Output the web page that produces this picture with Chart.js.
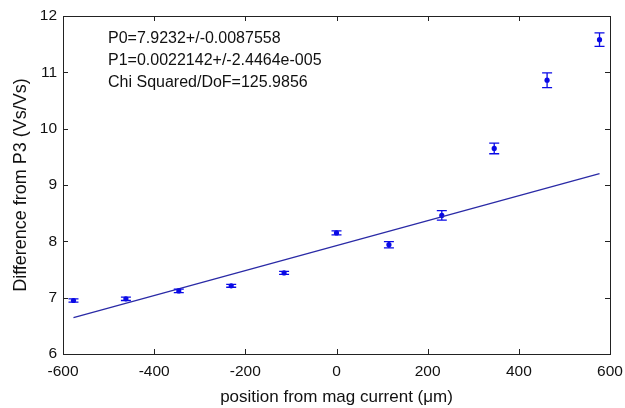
<!DOCTYPE html>
<html>
<head>
<meta charset="utf-8">
<script src="https://cdn.jsdelivr.net/npm/chart.js@4/dist/chart.umd.min.js"></script>
<style>
html,body{margin:0;padding:0;background:#fff;}
#wrap{width:625px;height:408px;position:relative;}
</style>
</head>
<body>
<div id="wrap"><canvas id="c" width="625" height="408"></canvas></div>
<script>
// ---- data ----
const positions = [-577, -462, -346, -231, -115, 0, 115, 231, 346, 462, 577];
const differences = [6.95, 6.98, 7.12, 7.21, 7.44, 8.15, 7.94, 8.46, 9.65, 10.86, 11.58];
const errors = [0.03, 0.03, 0.03, 0.025, 0.025, 0.035, 0.055, 0.085, 0.095, 0.13, 0.12];
const fitP0 = 7.9232;
const fitP1 = 0.0022142;
const fitRange = [-577, 577];
const xTicks = [-600, -400, -200, 0, 200, 400, 600];
const yTicks = [6, 7, 8, 9, 10, 11, 12];
const annotationLines = [
  'P0=7.9232+/-0.0087558',
  'P1=0.0022142+/-2.4464e-005',
  'Chi Squared/DoF=125.9856'
];
const xTitle = 'position from mag current (\u03BCm)';
const yTitle = 'Difference from P3 (Vs/Vs)';

const FONT = '"Liberation Sans", Arial, sans-serif';

const pointData = positions.map((x, i) => ({x: x, y: differences[i]}));
const fitData = fitRange.map(x => ({x: x, y: fitP0 + fitP1 * x}));

const errorBars = {
  id: 'errorBars',
  afterDatasetsDraw(chart) {
    const ctx = chart.ctx, xs = chart.scales.x, ys = chart.scales.y;
    ctx.save();
    ctx.strokeStyle = '#0a0ae6';
    ctx.lineWidth = 1.3;
    positions.forEach((x, i) => {
      const px = xs.getPixelForValue(x);
      const top = ys.getPixelForValue(differences[i] + errors[i]);
      const bot = ys.getPixelForValue(differences[i] - errors[i]);
      ctx.beginPath();
      ctx.moveTo(px, top); ctx.lineTo(px, bot);
      ctx.moveTo(px - 5, top); ctx.lineTo(px + 5, top);
      ctx.moveTo(px - 5, bot); ctx.lineTo(px + 5, bot);
      ctx.stroke();
    });
    ctx.restore();
  }
};

const boxTicks = {
  id: 'boxTicks',
  afterDraw(chart) {
    const ctx = chart.ctx, a = chart.chartArea, xs = chart.scales.x, ys = chart.scales.y;
    ctx.save();
    ctx.strokeStyle = '#222';
    ctx.lineWidth = 1;
    const L = 5;
    ctx.beginPath();
    xTicks.forEach(v => {
      const p = Math.round(xs.getPixelForValue(v)) + 0.5;
      ctx.moveTo(p, a.bottom); ctx.lineTo(p, a.bottom - L);
      ctx.moveTo(p, a.top); ctx.lineTo(p, a.top + L);
    });
    yTicks.forEach(v => {
      const p = Math.round(ys.getPixelForValue(v)) + 0.5;
      ctx.moveTo(a.left, p); ctx.lineTo(a.left + L, p);
      ctx.moveTo(a.right, p); ctx.lineTo(a.right - L, p);
    });
    ctx.stroke();
    ctx.strokeRect(Math.round(a.left) + 0.5, Math.round(a.top) + 0.5,
                   Math.round(a.right - a.left), Math.round(a.bottom - a.top));
    // annotation text
    ctx.fillStyle = '#111';
    ctx.font = '16px ' + FONT;
    ctx.textBaseline = 'middle';
    annotationLines.forEach((t, i) => ctx.fillText(t, 108, 39 + i * 22));
    ctx.restore();
  }
};

new Chart(document.getElementById('c'), {
  type: 'scatter',
  data: {
    datasets: [
      {
        data: fitData,
        showLine: true,
        borderColor: '#2a2aa6',
        borderWidth: 1.3,
        pointRadius: 0,
        fill: false
      },
      {
        data: pointData,
        showLine: false,
        pointRadius: 2.6,
        pointBackgroundColor: '#0a0ae6',
        pointBorderColor: '#0a0ae6',
        pointBorderWidth: 0
      }
    ]
  },
  options: {
    responsive: false,
    animation: false,
    events: [],
    layout: {padding: {top: 16, right: 15, left: 0, bottom: 0}},
    plugins: {legend: {display: false}, tooltip: {enabled: false}},
    scales: {
      x: {
        type: 'linear', min: -600, max: 600,
        afterBuildTicks(s) { s.ticks = xTicks.map(v => ({value: v})); },
        afterFit(s) { s.height = 54; s.paddingLeft = 0; s.paddingRight = 0; },
        grid: {display: false, drawTicks: false},
        border: {display: false},
        ticks: {color: '#111', font: {family: FONT, size: 15.5}, padding: 8,
                maxRotation: 0, autoSkip: false},
        title: {display: true, text: xTitle, color: '#111',
                font: {family: FONT, size: 17}, padding: {top: 0, bottom: 0}}
      },
      y: {
        type: 'linear', min: 6, max: 12,
        afterBuildTicks(s) { s.ticks = yTicks.map(v => ({value: v})); },
        afterFit(s) { s.width = 63; s.paddingTop = 0; s.paddingBottom = 0; },
        grid: {display: false, drawTicks: false},
        border: {display: false},
        ticks: {color: '#111', font: {family: FONT, size: 15.5}, padding: 6},
        title: {display: true, text: yTitle, color: '#111',
                font: {family: FONT, size: 18}, padding: {top: 10, bottom: 0}}
      }
    }
  },
  plugins: [errorBars, boxTicks]
});
</script>
</body>
</html>
